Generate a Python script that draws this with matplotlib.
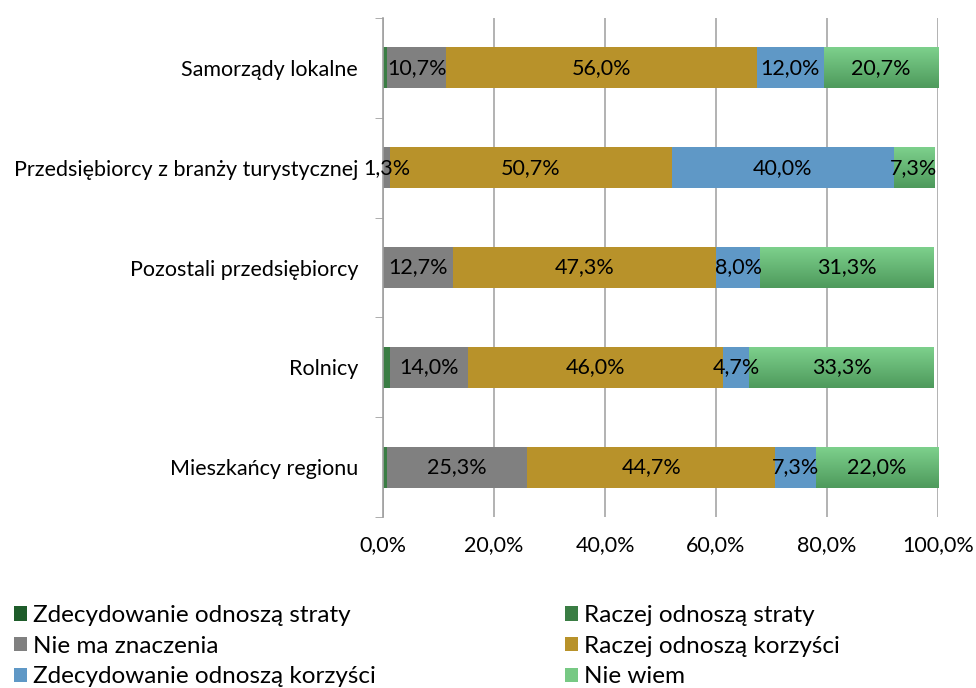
import numpy as np
import matplotlib
matplotlib.use("Agg")
import matplotlib.pyplot as plt
from matplotlib.colors import LinearSegmentedColormap
from matplotlib.patches import Patch

plt.rcParams['font.family'] = ['Lato', 'DejaVu Sans']

categories = ["Mieszkańcy regionu", "Rolnicy", "Pozostali przedsiębiorcy",
              "Przedsiębiorcy z branży turystycznej", "Samorządy lokalne"]
series = ["Zdecydowanie odnoszą straty", "Raczej odnoszą straty", "Nie ma znaczenia",
          "Raczej odnoszą korzyści", "Zdecydowanie odnoszą korzyści", "Nie wiem"]
zdec_straty = [0.0, 0.0, 0.0, 0.0, 0.0]
raczej_straty = [0.7, 1.3, 0.0, 0.0, 0.7]
nie_ma_znaczenia = [25.3, 14.0, 12.7, 1.3, 10.7]
raczej_korzysci = [44.7, 46.0, 47.3, 50.7, 56.0]
zdec_korzysci = [7.3, 4.7, 8.0, 40.0, 12.0]
nie_wiem = [22.0, 33.3, 31.3, 7.3, 20.7]

values = [zdec_straty, raczej_straty, nie_ma_znaczenia, raczej_korzysci, zdec_korzysci, nie_wiem]
colors = ["#1e5c2a", "#3a7d44", "#808080", "#b8922a", "#5f98c6", "#77c984"]
show_label = [False, False, True, True, True, True]

fig = plt.figure(figsize=(9.76, 6.88), dpi=100)
ax = fig.add_axes([383/976, 1-517/688, (938-383)/976, (517-18)/688])

y = np.arange(len(categories))
h = 0.41
left = np.zeros(len(categories))
grad = LinearSegmentedColormap.from_list("nw", ["#4e9a5c", "#7dd08c"])
for vals, col, lab, name in zip(values, colors, show_label, series):
    vals = np.array(vals)
    if name == "Nie wiem":
        bars = ax.barh(y, vals, left=left, height=h, color="none", edgecolor="none", zorder=3)
        for b in bars:
            x0, y0 = b.get_x(), b.get_y()
            w, hh = b.get_width(), b.get_height()
            ax.imshow(np.linspace(0, 1, 50).reshape(-1, 1), cmap=grad, aspect="auto",
                      extent=[x0, x0 + w, y0 + hh, y0], origin="upper", zorder=3)
    else:
        ax.barh(y, vals, left=left, height=h, color=col, edgecolor="none", zorder=3)
    if lab:
        for i, v in enumerate(vals):
            if v > 0:
                ax.text(left[i] + v / 2, y[i], f"{v:.1f}%".replace(".", ","),
                        ha="center", va="center", fontsize=15.5, color="black", zorder=5)
    left = left + vals

ax.set_xlim(0, 100)
ax.set_ylim(-0.5, len(categories) - 0.5)
ax.set_xticks(np.arange(0, 101, 20))
ax.set_xticklabels([f"{t:.1f}%".replace(".", ",") for t in np.arange(0, 101, 20)], fontsize=15.5)
ax.set_yticks(y)
ax.set_yticklabels(categories, fontsize=15.5)
ax.set_yticks(np.arange(-0.5, len(categories), 1), minor=True)
ax.tick_params(axis="y", which="major", length=0, pad=18)
ax.tick_params(axis="y", which="minor", length=6, color="#a0a0a0", direction="out")
ax.tick_params(axis="x", length=0, pad=13)
ax.grid(axis="x", color="#a6a6a6", linewidth=1.2, zorder=0)
for s in ["top", "right", "bottom"]:
    ax.spines[s].set_visible(False)
ax.spines["left"].set_color("#a0a0a0")
ax.spines["left"].set_linewidth(1.2)
ax.spines["left"].set_zorder(4)

handles = [Patch(facecolor=c) for c in colors]
for idx, xpos in [([0, 2, 4], 14), ([1, 3, 5], 565)]:
    fig.legend([handles[i] for i in idx], [series[i] for i in idx],
               loc="upper left", bbox_to_anchor=(xpos/976, 1-605/688), frameon=False,
               fontsize=17.5, handlelength=0.55, handleheight=0.55, handletextpad=0.25,
               labelspacing=0.4, borderpad=0, borderaxespad=0)

fig.savefig("out.png", dpi=100)
